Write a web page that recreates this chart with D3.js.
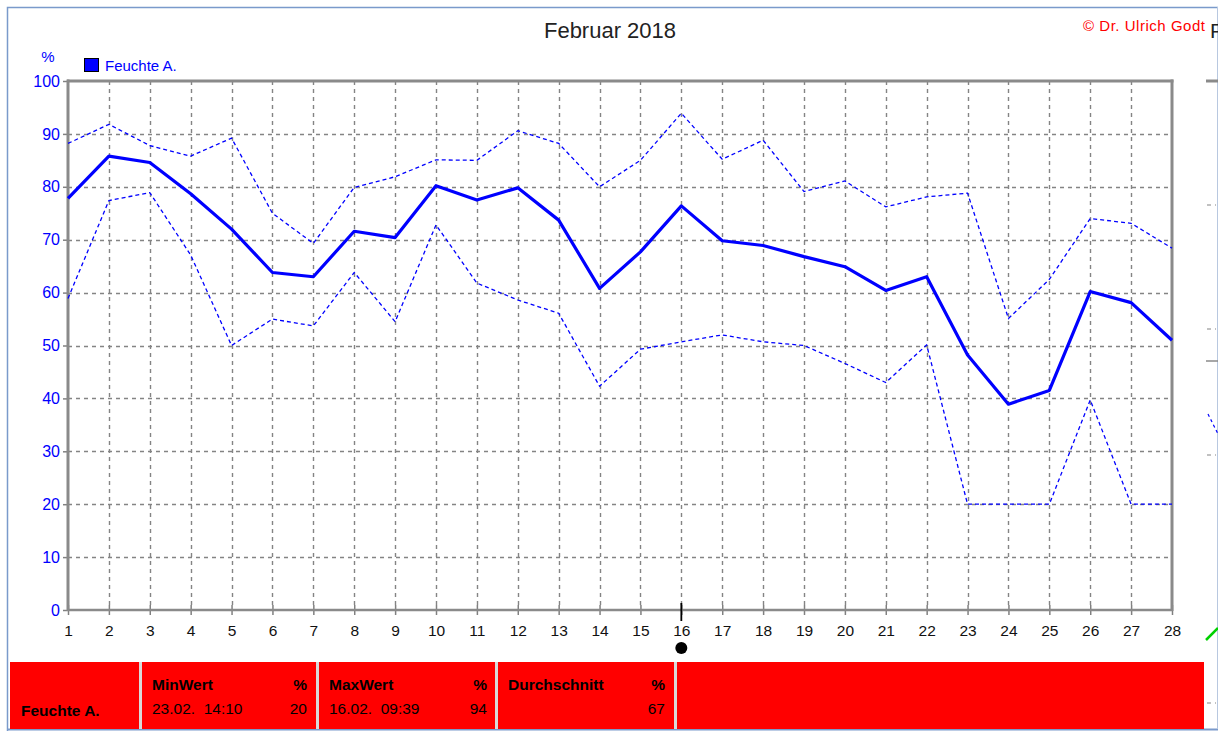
<!DOCTYPE html>
<html><head><meta charset="utf-8">
<script src="https://cdn.jsdelivr.net/npm/d3@7"></script>
<style>
html,body{margin:0;padding:0;background:#fff;}
svg{display:block;font-family:"Liberation Sans",Arial,sans-serif;}
</style></head>
<body>
<svg id="chart" width="1218" height="731"></svg>
<script>
// ---- data ----
const days = d3.range(1, 29);
const meanValues = [77.8,85.8,84.6,78.7,72.0,63.8,63.0,71.6,70.4,80.2,77.5,79.8,73.7,60.8,67.7,76.4,69.8,68.9,66.8,64.9,60.4,63.0,48.2,38.9,41.5,60.2,58.1,51.0];
const maxValues  = [88.2,91.8,87.8,85.8,89.2,75.0,69.3,79.9,81.9,85.1,85.0,90.6,88.2,80.0,85.0,93.9,85.2,88.8,79.1,81.1,76.2,78.1,78.8,55.1,62.5,74.0,73.1,68.4];
const minValues  = [58.9,77.4,78.9,67.1,50.0,55.0,53.7,63.8,54.5,72.8,61.8,58.6,56.1,42.3,49.3,50.7,52.0,50.7,50.0,46.6,43.0,50.1,20.0,20.0,20.0,39.7,20.0,20.0];
const yTicks = [0,10,20,30,40,50,60,70,80,90,100];
const title = "Februar 2018";
const seriesName = "Feuchte A.";
const unit = "%";
const copyright = "\u00A9 Dr. Ulrich Godt";
const markerDay = 16;
const statHeaders = ["MinWert","MaxWert","Durchschnitt"];
const statDates = ["23.02.  14:10","16.02.  09:39",""];
const statValues = ["20","94","67"];

// ---- layout ----
const svg = d3.select("#chart");
const x = d3.scaleLinear().domain([1,28]).range([68,1172]);
const y = d3.scaleLinear().domain([0,100]).range([610,81]);
const blue = "#0000ff";
const gridCol = "#848484";

// outer frame
svg.append("path").attr("d","M7.5,731 V7.5 H1218").attr("fill","none").attr("stroke","#7a9acb").attr("stroke-width",1.5);
svg.append("line").attr("x1",7).attr("x2",1218).attr("y1",729.5).attr("y2",729.5).attr("stroke","#7a9acb").attr("stroke-width",2);

// title
svg.append("text").attr("x",610).attr("y",38).attr("text-anchor","middle").attr("font-size",22).attr("fill","#222").text(title);
svg.append("text").attr("x",1205).attr("y",31).attr("text-anchor","end").attr("font-size",15).attr("fill","#ff0000").attr("textLength",122).text(copyright);

// grid
const g = svg.append("g");
g.selectAll(".vg").data(days.slice(1,-1)).enter().append("line")
  .attr("x1",d=>Math.round(x(d))+0.5).attr("x2",d=>Math.round(x(d))+0.5)
  .attr("y1",y(100)).attr("y2",y(0))
  .attr("stroke",gridCol).attr("stroke-width",1.4).attr("stroke-dasharray","4,4");
g.selectAll(".hg").data(yTicks.slice(1,-1)).enter().append("line")
  .attr("x1",x(1)).attr("x2",x(28))
  .attr("y1",d=>Math.round(y(d))+0.5).attr("y2",d=>Math.round(y(d))+0.5)
  .attr("stroke",gridCol).attr("stroke-width",1.4).attr("stroke-dasharray","4,4");

// axes
const yAxis = d3.axisLeft(y).tickValues(yTicks).tickSize(5).tickPadding(3);
const ya = svg.append("g").attr("transform",`translate(${x(1)},0)`).call(yAxis);
ya.select(".domain").remove();
ya.selectAll(".tick line").attr("stroke","#808080").attr("stroke-width",1.5);
ya.selectAll(".tick text").attr("fill",blue).attr("font-size",16).attr("font-family","Liberation Sans, Arial, sans-serif");

const xAxis = d3.axisBottom(x).tickValues(days).tickFormat(d3.format("d")).tickSize(5).tickPadding(10);
const xa = svg.append("g").attr("transform",`translate(0,${y(0)})`).call(xAxis);
xa.select(".domain").remove();
xa.selectAll(".tick line").attr("stroke","#808080").attr("stroke-width",1.5).attr("y1",-5);
xa.selectAll(".tick text").attr("fill","#111").attr("font-size",15.5).attr("font-family","Liberation Sans, Arial, sans-serif");

// frame of plot
svg.append("line").attr("x1",x(1)-1).attr("x2",x(28)+1.5).attr("y1",y(100)).attr("y2",y(100)).attr("stroke","#8a8a8a").attr("stroke-width",3);
svg.append("line").attr("x1",x(1)).attr("x2",x(1)).attr("y1",y(100)-1.5).attr("y2",y(0)+1).attr("stroke","#8a8a8a").attr("stroke-width",3);
svg.append("line").attr("x1",x(28)).attr("x2",x(28)).attr("y1",y(100)-1.5).attr("y2",y(0)+1).attr("stroke","#8a8a8a").attr("stroke-width",3);
svg.append("line").attr("x1",x(1)).attr("x2",x(28)).attr("y1",y(0)).attr("y2",y(0)).attr("stroke","#8a8a8a").attr("stroke-width",2.5);

// series
const line = d3.line().x((d,i)=>x(days[i])).y(d=>y(d));
svg.append("path").datum(maxValues).attr("d",line).attr("fill","none").attr("stroke",blue).attr("stroke-width",1.3).attr("stroke-dasharray","4,3");
svg.append("path").datum(minValues).attr("d",line).attr("fill","none").attr("stroke",blue).attr("stroke-width",1.3).attr("stroke-dasharray","4,3");
svg.append("path").datum(meanValues).attr("d",line).attr("fill","none").attr("stroke",blue).attr("stroke-width",3.2).attr("stroke-linejoin","round");

// unit & legend
svg.append("text").attr("x",48).attr("y",62).attr("text-anchor","middle").attr("font-size",15).attr("fill",blue).text(unit);
svg.append("rect").attr("x",84.5).attr("y",58.5).attr("width",14).attr("height",13).attr("fill",blue).attr("stroke","#000").attr("stroke-width",1);
svg.append("text").attr("x",105).attr("y",71).attr("font-size",15).attr("fill",blue).text(seriesName);

// day marker
svg.append("line").attr("x1",x(markerDay)).attr("x2",x(markerDay)).attr("y1",603).attr("y2",621).attr("stroke","#000").attr("stroke-width",1.8);
svg.append("circle").attr("cx",x(markerDay)).attr("cy",648).attr("r",6).attr("fill","#000");

// stats table
const tableTop = 662;
const cells = [[10,139],[142,316],[319,496],[498,674],[677,1204]];
svg.selectAll(".cell").data(cells).enter().append("rect")
  .attr("x",d=>d[0]).attr("y",tableTop).attr("width",d=>d[1]-d[0]).attr("height",67)
  .attr("fill","#ff0000");
svg.selectAll(".sep").data(cells.slice(1)).enter().append("rect")
  .attr("x",d=>d[0]-3).attr("y",tableTop).attr("width",3).attr("height",67).attr("fill","#d9d9d9");
svg.append("text").attr("x",21).attr("y",716).attr("font-size",15.5).attr("font-weight","bold").attr("fill","#000").text(seriesName);
statHeaders.forEach((h,i)=>{
  const c = cells[i+1];
  svg.append("text").attr("x",c[0]+10).attr("y",690).attr("font-size",15.5).attr("font-weight","bold").attr("fill","#000").text(h);
  svg.append("text").attr("x",c[1]-9).attr("y",690).attr("text-anchor","end").attr("font-size",15.5).attr("font-weight","bold").attr("fill","#000").text(unit);
  if (statDates[i]) svg.append("text").attr("x",c[0]+10).attr("y",714).attr("font-size",15.5).attr("fill","#000").style("white-space","pre").text(statDates[i]);
  svg.append("text").attr("x",c[1]-9).attr("y",714).attr("text-anchor","end").attr("font-size",15.5).attr("fill","#000").text(statValues[i]);
});

// right edge remnants of the neighbouring chart
svg.append("line").attr("x1",1217.5).attr("x2",1217.5).attr("y1",7).attr("y2",729).attr("stroke","#b8c8e0").attr("stroke-width",1);
svg.append("line").attr("x1",1206).attr("x2",1218).attr("y1",81).attr("y2",81).attr("stroke","#8a8a8a").attr("stroke-width",3);
svg.append("line").attr("x1",1206).attr("x2",1218).attr("y1",361).attr("y2",361).attr("stroke","#8a8a8a").attr("stroke-width",1.5);
[205,329,455,703].forEach(v=>svg.append("line").attr("x1",1207).attr("x2",1216).attr("y1",v).attr("y2",v).attr("stroke",gridCol).attr("stroke-width",1.2).attr("stroke-dasharray","4,4"));
svg.append("line").attr("x1",1208).attr("x2",1218).attr("y1",414).attr("y2",434).attr("stroke",blue).attr("stroke-width",1.2).attr("stroke-dasharray","3,3");
svg.append("line").attr("x1",1206).attr("x2",1218).attr("y1",640).attr("y2",628).attr("stroke","#00d000").attr("stroke-width",2.5);
svg.append("text").attr("x",1210).attr("y",38).attr("font-size",21).attr("fill","#222").text("F");
</script>
</body></html>
